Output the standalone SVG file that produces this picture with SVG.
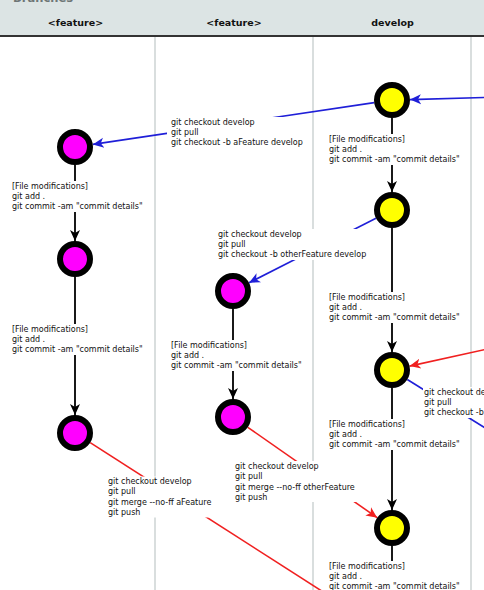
<svg xmlns="http://www.w3.org/2000/svg" width="484" height="590" viewBox="0 0 484 590">
<style>
.sep{stroke:#d9dede;stroke-width:2}
.hdr{font-family:"DejaVu Sans",sans-serif;font-weight:bold;font-size:9.5px;fill:#111;text-anchor:middle}
.lbl{font-family:"DejaVu Sans",sans-serif;font-size:8px;fill:#111}
.bg{fill:#fff}
.blk{stroke:#000;stroke-width:1.8;fill:none}
.blu{stroke:#1f1fd8;stroke-width:1.6;fill:none}
.red{stroke:#f02020;stroke-width:1.6;fill:none}
.feat{fill:#ff00ff;stroke:#000;stroke-width:6}
.dev{fill:#ffff00;stroke:#000;stroke-width:6}
</style>
<defs>
<marker id="ab" markerUnits="userSpaceOnUse" markerWidth="12" markerHeight="12" refX="11" refY="6" orient="auto"><path d="M0,1 L11,6 L0,11 L3,6 z" fill="#000"/></marker>
<marker id="au" markerUnits="userSpaceOnUse" markerWidth="12" markerHeight="12" refX="11" refY="6" orient="auto"><path d="M0,1 L11,6 L0,11 L3,6 z" fill="#1f1fd8"/></marker>
<marker id="ar" markerUnits="userSpaceOnUse" markerWidth="12" markerHeight="12" refX="11" refY="6" orient="auto"><path d="M0,1 L11,6 L0,11 L3,6 z" fill="#f02020"/></marker>
</defs>
<rect x="0" y="0" width="484" height="590" fill="#fff"/>
<g id="header">
<rect x="0" y="0" width="484" height="35" fill="#dce4e4"/>
<text x="13" y="2" font-family="DejaVu Sans,sans-serif" font-weight="bold" font-size="11.5" fill="#6e7676">Branches</text>
<line x1="0" y1="36" x2="484" y2="36" stroke="#333" stroke-width="2"/>
<text class="hdr" x="75.5" y="25.5">&lt;feature&gt;</text>
<text class="hdr" x="234" y="25.5">&lt;feature&gt;</text>
<text class="hdr" x="392.5" y="25.5">develop</text>
</g>
<g id="separators">
<line class="sep" x1="155" y1="37" x2="155" y2="590"/>
<line class="sep" x1="313" y1="37" x2="313" y2="590"/>
<line class="sep" x1="471" y1="37" x2="471" y2="590"/>
</g>
<g id="connectors">
<line class="blk" x1="75" y1="165" x2="75" y2="241" marker-end="url(#ab)"/>
<line class="blk" x1="75" y1="277" x2="75" y2="415" marker-end="url(#ab)"/>
<line class="blk" x1="233" y1="309" x2="233" y2="399" marker-end="url(#ab)"/>
<line class="blk" x1="392" y1="118" x2="392" y2="192" marker-end="url(#ab)"/>
<line class="blk" x1="392" y1="228" x2="392" y2="352" marker-end="url(#ab)"/>
<line class="blk" x1="392" y1="388" x2="392" y2="510" marker-end="url(#ab)"/>
<line class="blk" x1="392" y1="546" x2="392" y2="600"/>
<line class="blu" x1="500" y1="97" x2="410" y2="99.6" marker-end="url(#au)"/>
<line class="blu" x1="374.2" y1="102.6" x2="92.8" y2="144.4" marker-end="url(#au)"/>
<line class="blu" x1="376" y1="218.2" x2="249" y2="282.8" marker-end="url(#au)"/>
<line class="red" x1="500" y1="346.2" x2="409.6" y2="366.1" marker-end="url(#ar)"/>
<line class="blu" x1="407.3" y1="379.5" x2="520" y2="449.6"/>
<line class="red" x1="247.8" y1="427.3" x2="377.2" y2="517.7" marker-end="url(#ar)"/>
<line class="red" x1="90.2" y1="442.7" x2="392" y2="636"/>
</g>
<g id="labels" class="lbl">
<g id="lbl-f1a"><rect class="bg" x="11" y="181" width="133" height="31"/><text x="12" y="189">[File modifications]</text><text x="12" y="199">git add .</text><text x="12" y="209">git commit -am "commit details"</text></g>
<g id="lbl-f1b"><rect class="bg" x="11" y="324" width="133" height="31"/><text x="12" y="332">[File modifications]</text><text x="12" y="342">git add .</text><text x="12" y="352">git commit -am "commit details"</text></g>
<g id="lbl-b1"><rect class="bg" x="167" y="117" width="136" height="31"/><text x="171" y="125">git checkout develop</text><text x="171" y="135">git pull</text><text x="171" y="145">git checkout -b aFeature develop</text></g>
<g id="lbl-b2"><rect class="bg" x="217" y="229" width="151" height="31"/><text x="218" y="237">git checkout develop</text><text x="218" y="247">git pull</text><text x="218" y="257">git checkout -b otherFeature develop</text></g>
<g id="lbl-f2a"><rect class="bg" x="170" y="340" width="133" height="31"/><text x="171" y="348">[File modifications]</text><text x="171" y="358">git add .</text><text x="171" y="368">git commit -am "commit details"</text></g>
<g id="lbl-r1"><rect class="bg" x="107" y="476.5" width="105" height="41"/><text x="108" y="484">git checkout develop</text><text x="108" y="494.3">git pull</text><text x="108" y="504.6">git merge --no-ff aFeature</text><text x="108" y="514.9">git push</text></g>
<g id="lbl-r2"><rect class="bg" x="234" y="461" width="122" height="41"/><text x="235" y="469">git checkout develop</text><text x="235" y="479.3">git pull</text><text x="235" y="489.6">git merge --no-ff otherFeature</text><text x="235" y="499.9">git push</text></g>
<g id="lbl-d1"><rect class="bg" x="328" y="134" width="133" height="31"/><text x="329" y="142">[File modifications]</text><text x="329" y="152">git add .</text><text x="329" y="162">git commit -am "commit details"</text></g>
<g id="lbl-d2"><rect class="bg" x="328" y="292" width="133" height="31"/><text x="329" y="300">[File modifications]</text><text x="329" y="310">git add .</text><text x="329" y="320">git commit -am "commit details"</text></g>
<g id="lbl-d3"><rect class="bg" x="328" y="419" width="133" height="31"/><text x="329" y="427">[File modifications]</text><text x="329" y="437">git add .</text><text x="329" y="447">git commit -am "commit details"</text></g>
<g id="lbl-d4"><rect class="bg" x="328" y="561" width="133" height="31"/><text x="329" y="569">[File modifications]</text><text x="329" y="579">git add .</text><text x="329" y="589">git commit -am "commit details"</text></g>
<g id="lbl-b3"><rect class="bg" x="423" y="387" width="61" height="31"/><text x="424" y="395">git checkout develop</text><text x="424" y="405">git pull</text><text x="424" y="415">git checkout -b</text></g>
</g>
<g id="node-f1-1"><circle class="feat" cx="75" cy="147" r="15"/></g>
<g id="node-f1-2"><circle class="feat" cx="75" cy="259" r="15"/></g>
<g id="node-f1-3"><circle class="feat" cx="75" cy="433" r="15"/></g>
<g id="node-f2-1"><circle class="feat" cx="233" cy="291" r="15"/></g>
<g id="node-f2-2"><circle class="feat" cx="233" cy="417" r="15"/></g>
<g id="node-d1"><circle class="dev" cx="392" cy="100" r="15"/></g>
<g id="node-d2"><circle class="dev" cx="392" cy="210" r="15"/></g>
<g id="node-d3"><circle class="dev" cx="392" cy="370" r="15"/></g>
<g id="node-d4"><circle class="dev" cx="392" cy="528" r="15"/></g>
</svg>
